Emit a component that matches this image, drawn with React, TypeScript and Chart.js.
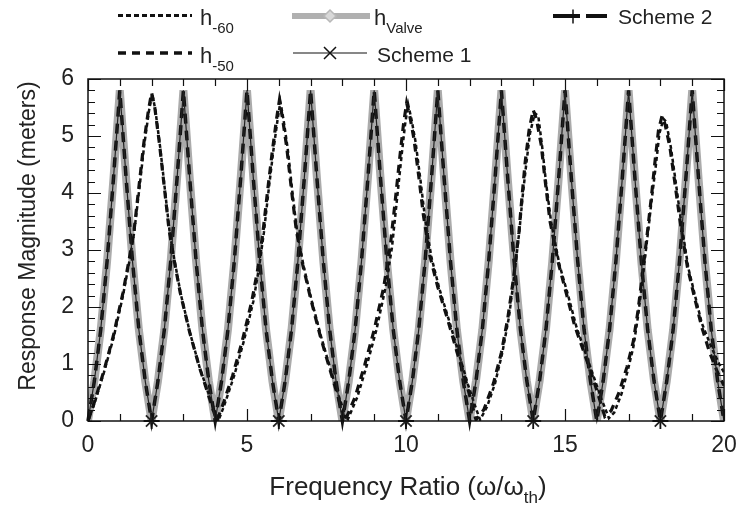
import React, { useEffect, useRef } from "react";
import { Chart, registerables } from "chart.js";

Chart.register(...registerables);

const FONT = "'Liberation Sans', Arial, Helvetica, sans-serif";

// Frequency grid (ω/ωth) for the valve / scheme responses
const freq = [
  0, 0.2, 0.4, 0.6, 0.8, 1, 1.2, 1.4, 1.6, 1.8,
  2, 2.2, 2.4, 2.6, 2.8, 3, 3.2, 3.4, 3.6, 3.8,
  4, 4.2, 4.4, 4.6, 4.8, 5, 5.2, 5.4, 5.6, 5.8,
  6, 6.2, 6.4, 6.6, 6.8, 7, 7.2, 7.4, 7.6, 7.8,
  8, 8.2, 8.4, 8.6, 8.8, 9, 9.2, 9.4, 9.6, 9.8,
  10, 10.2, 10.4, 10.6, 10.8, 11, 11.2, 11.4, 11.6, 11.8,
  12, 12.2, 12.4, 12.6, 12.8, 13, 13.2, 13.4, 13.6, 13.8,
  14, 14.2, 14.4, 14.6, 14.8, 15, 15.2, 15.4, 15.6, 15.8,
  16, 16.2, 16.4, 16.6, 16.8, 17, 17.2, 17.4, 17.6, 17.8,
  18, 18.2, 18.4, 18.6, 18.8, 19, 19.2, 19.4, 19.6, 19.8,
  20,
];

// h_Valve response magnitude (m)
const hValve = [
  0, 0.7, 1.6, 2.8, 4.25, 5.8, 4.25, 2.8, 1.6, 0.7,
  0, 0.7, 1.6, 2.8, 4.25, 5.8, 4.25, 2.8, 1.6, 0.7,
  0, 0.7, 1.6, 2.8, 4.25, 5.8, 4.25, 2.8, 1.6, 0.7,
  0, 0.7, 1.6, 2.8, 4.25, 5.8, 4.25, 2.8, 1.6, 0.7,
  0, 0.7, 1.6, 2.8, 4.25, 5.8, 4.25, 2.8, 1.6, 0.7,
  0, 0.7, 1.6, 2.8, 4.25, 5.8, 4.25, 2.8, 1.6, 0.7,
  0, 0.7, 1.6, 2.8, 4.25, 5.8, 4.25, 2.8, 1.6, 0.7,
  0, 0.7, 1.6, 2.8, 4.25, 5.8, 4.25, 2.8, 1.6, 0.7,
  0, 0.7, 1.6, 2.8, 4.25, 5.8, 4.25, 2.8, 1.6, 0.7,
  0, 0.7, 1.6, 2.8, 4.25, 5.8, 4.25, 2.8, 1.6, 0.7,
  0,
];

// Scheme 1 and Scheme 2 coincide with h_Valve in the figure
const scheme1 = hValve;
const scheme2 = hValve;

// Frequencies where the scheme markers are drawn
const markerFreq = [2, 6, 10, 14, 18];

// h_-50 response
const h50Freq = [
  0, 0.2, 0.5, 0.8, 1.1, 1.3, 1.45, 1.6, 1.75, 1.9, 2.0, 2.1, 2.25, 2.4, 2.55, 2.7, 2.9, 3.2, 3.5, 3.75, 4.05,
  4.25, 4.55, 4.85, 5.15, 5.35, 5.5, 5.65, 5.8, 5.93, 6.02, 6.12, 6.25, 6.4, 6.55, 6.75, 7.0, 7.3, 7.6, 7.85, 8.08,
  8.4, 8.7, 9.0, 9.3, 9.5, 9.65, 9.8, 9.92, 10.02, 10.12, 10.25, 10.4, 10.55, 10.75, 11.0, 11.3, 11.6, 11.9, 12.05, 12.2,
  12.45, 12.75, 13.0, 13.2, 13.38, 13.55, 13.65, 13.75, 13.87, 14.0, 14.1, 14.25, 14.38, 14.53, 14.8, 15.05, 15.3, 15.6, 15.85, 16.05, 16.25,
  16.45, 16.7, 16.95, 17.15, 17.3, 17.45, 17.6, 17.72, 17.83, 17.94, 18.05, 18.15, 18.3, 18.45, 18.62, 18.85, 19.05, 19.3, 19.55, 19.8, 20,
];
const h50Mag = [
  0, 0.33, 0.88, 1.5, 2.25, 2.85, 3.35, 4.1, 4.85, 5.45, 5.76, 5.5, 4.85, 4.1, 3.35, 2.85, 2.25, 1.55, 0.95, 0.52, 0,
  0.3, 0.8, 1.4, 2.1, 2.7, 3.3, 4.05, 4.75, 5.3, 5.63, 5.3, 4.8, 4.05, 3.35, 2.75, 2.15, 1.5, 0.92, 0.45, 0,
  0.42, 0.98, 1.6, 2.35, 3.05, 3.8, 4.6, 5.2, 5.58, 5.35, 4.95, 4.3, 3.6, 2.9, 2.35, 1.8, 1.22, 0.66, 0.35, 0.02,
  0.2, 0.66, 1.2, 1.8, 2.5, 3.3, 3.95, 4.55, 5.1, 5.46, 5.3, 4.85, 4.2, 3.5, 2.75, 2.22, 1.68, 1.2, 0.8, 0.45, 0.08,
  0.18, 0.5, 0.95, 1.4, 1.95, 2.65, 3.35, 3.95, 4.55, 5.1, 5.35, 5.2, 4.8, 4.2, 3.5, 2.7, 2.22, 1.65, 1.2, 0.85, 0.62,
];

// h_-60 response
const h60Freq = [
  0, 0.2, 0.5, 0.8, 1.1, 1.3, 1.45, 1.62, 1.77, 1.92, 2.02, 2.12, 2.27, 2.42, 2.57, 2.72, 2.92, 3.22, 3.52, 3.78, 4.1,
  4.3, 4.6, 4.9, 5.2, 5.38, 5.53, 5.68, 5.83, 5.96, 6.05, 6.15, 6.28, 6.43, 6.58, 6.78, 7.03, 7.33, 7.63, 7.88, 8.15,
  8.47, 8.77, 9.07, 9.36, 9.56, 9.7, 9.85, 9.97, 10.07, 10.17, 10.3, 10.45, 10.6, 10.8, 11.05, 11.35, 11.65, 11.95, 12.15, 12.33,
  12.55, 12.8, 13.03, 13.24, 13.4, 13.57, 13.67, 13.78, 13.9, 14.05, 14.16, 14.28, 14.4, 14.56, 14.83, 15.1, 15.36, 15.65, 15.92, 16.15, 16.38,
  16.55, 16.78, 16.98, 17.15, 17.3, 17.45, 17.62, 17.74, 17.86, 17.97, 18.1, 18.18, 18.33, 18.48, 18.65, 18.88, 19.08, 19.3, 19.6, 19.85, 20,
];
const h60Mag = [
  0, 0.3, 0.85, 1.45, 2.2, 2.8, 3.3, 4.1, 4.85, 5.45, 5.74, 5.45, 4.8, 4.05, 3.3, 2.82, 2.22, 1.52, 0.92, 0.5, 0,
  0.3, 0.8, 1.4, 2.1, 2.7, 3.3, 4.05, 4.75, 5.28, 5.6, 5.28, 4.78, 4.0, 3.3, 2.72, 2.12, 1.48, 0.9, 0.45, 0,
  0.42, 0.98, 1.6, 2.35, 3.05, 3.8, 4.6, 5.2, 5.55, 5.3, 4.9, 4.25, 3.55, 2.87, 2.32, 1.77, 1.2, 0.64, 0.3, 0.02,
  0.25, 0.66, 1.2, 1.83, 2.53, 3.36, 3.95, 4.5, 5.05, 5.4, 5.35, 4.82, 4.2, 3.5, 2.73, 2.2, 1.65, 1.18, 0.75, 0.38, 0.05,
  0.15, 0.48, 0.9, 1.3, 1.85, 2.55, 3.36, 3.95, 4.5, 5.05, 5.3, 5.25, 4.8, 4.2, 3.5, 2.68, 2.22, 1.72, 1.3, 1.0, 0.85,
];

// Axis ticks
const xTickLabels = [0, 5, 10, 15, 20];
const yTickLabels = [0, 1, 2, 3, 4, 5, 6];

const pts = (xs: number[], ys: number[]) => xs.map((x, i) => ({ x, y: ys[i] }));

const TEXT = "#222";

const framePlugin = {
  id: "frame",
  afterDatasetsDraw(chart: any) {
    const { ctx, chartArea } = chart;
    const { left, right, top, bottom } = chartArea;
    const xs = chart.scales.x;
    const ys = chart.scales.y;
    ctx.save();
    ctx.strokeStyle = "#111";
    ctx.lineWidth = 1.5;
    ctx.strokeRect(left, top, right - left, bottom - top);
    ctx.lineWidth = 1.2;
    ctx.beginPath();
    for (let i = 0; i <= 20; i++) {
      const px = Math.round(xs.getPixelForValue(i)) + 0.5;
      const len = i % 5 === 0 ? 12 : 7;
      ctx.moveTo(px, bottom);
      ctx.lineTo(px, bottom - len);
      ctx.moveTo(px, top);
      ctx.lineTo(px, top + len);
    }
    for (let i = 0; i <= 30; i++) {
      const py = Math.round(ys.getPixelForValue(i / 5)) + 0.5;
      const len = i % 5 === 0 ? 13 : 7;
      ctx.moveTo(left, py);
      ctx.lineTo(left + len, py);
      ctx.moveTo(right, py);
      ctx.lineTo(right - len, py);
    }
    ctx.stroke();
    ctx.restore();
  },
};

const textPlugin = {
  id: "texts",
  afterDraw(chart: any) {
    const { ctx, chartArea } = chart;
    ctx.save();
    ctx.fillStyle = TEXT;
    ctx.textBaseline = "alphabetic";

    // x title with subscript
    const main = "Frequency Ratio (\u03c9/\u03c9";
    const sub = "th";
    const tail = ")";
    ctx.font = `26px ${FONT}`;
    const wMain = ctx.measureText(main).width;
    const wTail = ctx.measureText(tail).width;
    ctx.font = `17px ${FONT}`;
    const wSub = ctx.measureText(sub).width;
    const total = wMain + wSub + wTail;
    const cx = (chartArea.left + chartArea.right) / 2 + 2;
    const x0 = cx - total / 2;
    const base = 495;
    ctx.font = `26px ${FONT}`;
    ctx.textAlign = "left";
    ctx.fillText(main, x0, base);
    ctx.font = `17px ${FONT}`;
    ctx.fillText(sub, x0 + wMain, base + 8);
    ctx.font = `26px ${FONT}`;
    ctx.fillText(tail, x0 + wMain + wSub, base);

    // y title
    ctx.save();
    ctx.translate(35, 236);
    ctx.rotate(-Math.PI / 2);
    ctx.textAlign = "center";
    ctx.font = `23px ${FONT}`;
    ctx.fillText("Response Magnitude (meters)", 0, 0);
    ctx.restore();

    // Legend
    const line = (x1: number, x2: number, y: number, w: number, dash: number[], color: string) => {
      ctx.save();
      ctx.strokeStyle = color;
      ctx.lineWidth = w;
      ctx.setLineDash(dash);
      ctx.beginPath();
      ctx.moveTo(x1, y);
      ctx.lineTo(x2, y);
      ctx.stroke();
      ctx.restore();
    };
    const hLabel = (x: number, base: number, subTxt: string, subSize: number) => {
      ctx.fillStyle = TEXT;
      ctx.font = `22px ${FONT}`;
      ctx.textAlign = "left";
      ctx.fillText("h", x, base);
      const w = ctx.measureText("h").width;
      ctx.font = `${subSize}px ${FONT}`;
      ctx.fillText(subTxt, x + w, base + 8);
    };
    // h-60
    line(118, 192, 15.5, 3, [5, 3], "#111");
    hLabel(200, 25, "-60", 15);
    // h-50
    line(118, 192, 53, 3.5, [8, 6], "#111");
    hLabel(200, 63, "-50", 15);
    // hValve
    line(292, 370, 16, 6, [], "#b0b0b0");
    ctx.save();
    ctx.fillStyle = "#d8d8d8";
    ctx.strokeStyle = "#b8b8b8";
    ctx.lineWidth = 1.5;
    ctx.beginPath();
    ctx.moveTo(330, 10);
    ctx.lineTo(336, 16);
    ctx.lineTo(330, 22);
    ctx.lineTo(324, 16);
    ctx.closePath();
    ctx.fill();
    ctx.stroke();
    ctx.restore();
    hLabel(374, 25, "Valve", 15);
    // Scheme 1
    line(293, 367, 53, 1.2, [], "#111");
    ctx.save();
    ctx.strokeStyle = "#111";
    ctx.lineWidth = 1.5;
    ctx.beginPath();
    ctx.moveTo(324, 47);
    ctx.lineTo(336, 59);
    ctx.moveTo(336, 47);
    ctx.lineTo(324, 59);
    ctx.stroke();
    ctx.restore();
    ctx.fillStyle = TEXT;
    ctx.font = `21px ${FONT}`;
    ctx.textAlign = "left";
    ctx.fillText("Scheme 1", 377, 62);
    // Scheme 2
    line(553, 580, 16, 4, [], "#111");
    line(586, 607, 16, 4, [], "#111");
    ctx.save();
    ctx.strokeStyle = "#111";
    ctx.lineWidth = 1.5;
    ctx.beginPath();
    ctx.moveTo(573, 9.5);
    ctx.lineTo(573, 23.5);
    ctx.stroke();
    ctx.restore();
    ctx.fillStyle = TEXT;
    ctx.font = `21px ${FONT}`;
    ctx.fillText("Scheme 2", 618, 24);

    ctx.restore();
  },
};

export default function App() {
  const ref = useRef<HTMLCanvasElement | null>(null);

  useEffect(() => {
    const canvas = ref.current;
    if (!canvas) return;
    const markerRadius = (r: number) => (c: any) =>
      c.raw && markerFreq.includes(c.raw.x) ? r : 0;

    const chart = new Chart(canvas, {
      type: "line",
      data: {
        datasets: [
          {
            label: "Scheme 1",
            data: pts(freq, scheme1),
            borderColor: "#222",
            borderWidth: 1.2,
            pointStyle: "crossRot",
            pointRadius: markerRadius(8),
            pointBorderColor: "#222",
            pointBorderWidth: 1.8,
            clip: false,
            order: 1,
          },
          {
            label: "Scheme 2",
            data: pts(freq, scheme2),
            borderColor: "#111",
            borderWidth: 3.5,
            borderDash: [10, 7],
            pointStyle: "cross",
            pointRadius: markerRadius(8),
            pointBorderColor: "#111",
            pointBorderWidth: 1.8,
            clip: false,
            order: 2,
          },
          {
            label: "h-60",
            data: pts(h60Freq, h60Mag),
            borderColor: "#111",
            borderWidth: 2.5,
            borderDash: [4, 3],
            pointRadius: 0,
            order: 3,
          },
          {
            label: "h-50",
            data: pts(h50Freq, h50Mag),
            borderColor: "#111",
            borderWidth: 3.2,
            borderDash: [8, 6],
            pointRadius: 0,
            order: 4,
          },
          {
            label: "hValve",
            data: pts(freq, hValve),
            borderColor: "#ababab",
            borderWidth: 8,
            pointRadius: 0,
            order: 5,
          },
        ],
      },
      options: {
        responsive: false,
        animation: false,
        events: [],
        layout: { padding: { top: 79, right: 13, left: 0, bottom: 0 } },
        elements: { line: { tension: 0, fill: false } },
        plugins: { legend: { display: false }, tooltip: { enabled: false } },
        scales: {
          x: {
            type: "linear",
            min: 0,
            max: 20,
            grid: { display: false, drawTicks: false },
            border: { display: false },
            afterBuildTicks: (s: any) => {
              s.ticks = xTickLabels.map((v) => ({ value: v }));
            },
            afterFit: (s: any) => {
              s.height = 85;
              s.paddingLeft = 0;
              s.paddingRight = 0;
            },
            ticks: {
              padding: 11,
              color: TEXT,
              maxRotation: 0,
              autoSkip: false,
              font: { family: FONT, size: 23 },
            },
          },
          y: {
            min: 0,
            max: 6,
            grid: { display: false, drawTicks: false },
            border: { display: false },
            afterBuildTicks: (s: any) => {
              s.ticks = yTickLabels.map((v) => ({ value: v }));
            },
            afterFit: (s: any) => {
              s.width = 88;
              s.paddingTop = 0;
              s.paddingBottom = 0;
            },
            ticks: {
              padding: 14,
              color: TEXT,
              font: { family: FONT, size: 23 },
            },
          },
        },
      },
      plugins: [framePlugin, textPlugin],
    });
    return () => chart.destroy();
  }, []);

  return (
    <div style={{ position: "fixed", left: 0, top: 0, width: 737, height: 506, background: "#fff" }}>
      <canvas ref={ref} width={737} height={506} style={{ display: "block" }} />
    </div>
  );
}
